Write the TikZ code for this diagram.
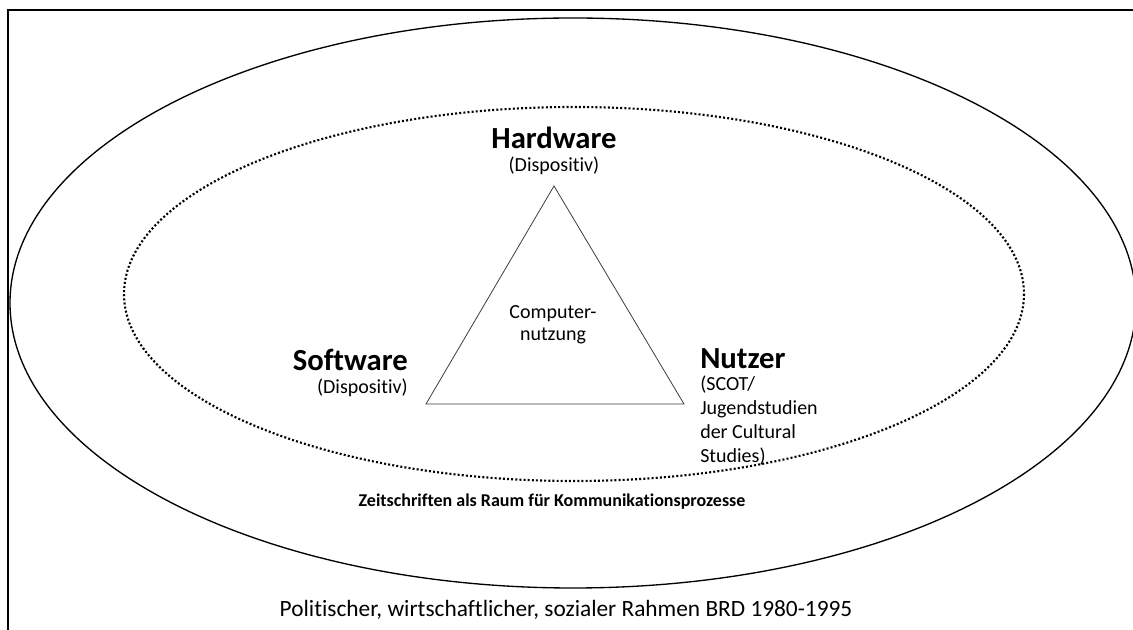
\documentclass[tikz,border=0pt]{standalone}
\usepackage{fontspec}
\setmainfont{Carlito}[Ligatures=CommonOff]
\usepackage{tikz}

\tikzset{
  head/.style={font=\fontsize{23}{27}\selectfont\bfseries, inner sep=0pt},
  sub/.style={font=\fontsize{15}{19}\selectfont, inner sep=0pt},
  ring/.style={dash pattern=on 1.5pt off 1.6pt, line width=1.6pt},
}

\begin{document}
\begin{tikzpicture}[x=0.75pt,y=0.75pt,yscale=-1,xscale=1]
\useasboundingbox (0,0) rectangle (1133,630);
\clip (0,0) rectangle (1133,630);

%Shape: Frame
\draw [line width=1.5pt] (8,10) rectangle (1160,660);
%Shape: Ellipse outer
\draw [line width=1pt] (573,303) ellipse [x radius=563, y radius=285];
%Shape: Ellipse inner
\draw [ring] (574,294) ellipse [x radius=450, y radius=187];

%Shape: Triangle
\coordinate (top) at (554,186);
\coordinate (left) at (426,404);
\coordinate (right) at (684,404);
\draw [line width=0.6pt, color={rgb, 255:red, 60; green, 60; blue, 60}] (top) -- (right) -- (left) -- cycle;

% Text Node
\node [head] (hw) at (554,138) {Hardware};
% Text Node
\node [sub] (hwsub) at (554,166) {(Dispositiv)};
% Text Node
\node [sub, align=center, font=\fontsize{15}{16.5}\selectfont] (use) at (553,325) {Computer-\\nutzung};
% Text Node
\node [head, anchor=east] (sw) at (408,360) {Software};
% Text Node
\node [sub, anchor=east] (swsub) at (408,388) {(Dispositiv)};
% Text Node
\node [head, anchor=west] (nu) at (700,359) {Nutzer};
% Text Node
\node [sub, anchor=north west, align=left, font=\fontsize{15}{18}\selectfont] (nusub) at (700,376) {(SCOT/\\Jugendstudien\\der Cultural\\Studies)};
% Text Node
\node [inner sep=0pt, font=\fontsize{13.5}{16}\selectfont\bfseries] (zs) at (552,502) {Zeitschriften als Raum für Kommunikationsprozesse};
% Text Node
\node [sub, font=\fontsize{17.5}{21}\selectfont] (frame) at (566,610) {Politischer, wirtschaftlicher, sozialer Rahmen BRD 1980-1995};

\end{tikzpicture}
\end{document}
